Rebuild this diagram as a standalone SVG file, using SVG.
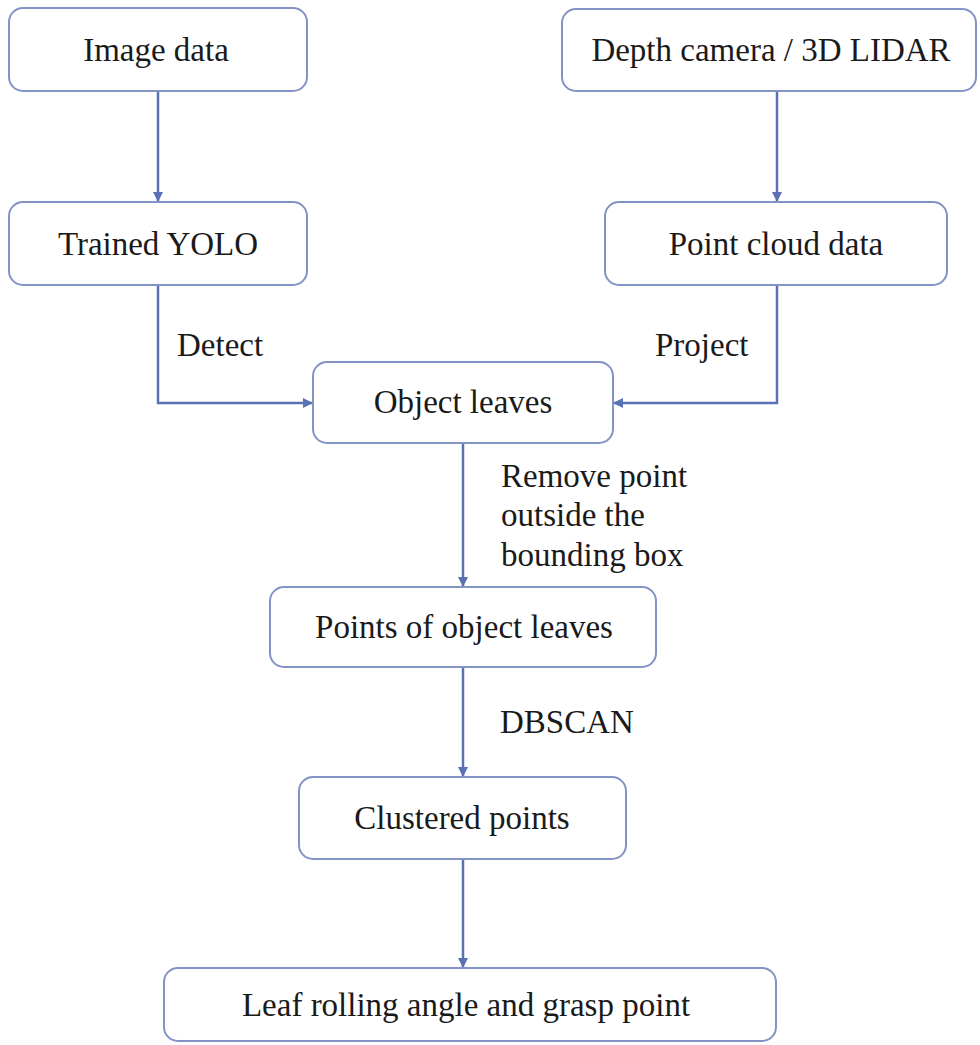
<svg xmlns="http://www.w3.org/2000/svg" width="980" height="1045" viewBox="0 0 980 1045">
<style>
.box{fill:#ffffff;stroke:#8393c6;stroke-width:2}
.t{font-family:"Times New Roman",Times,"Liberation Serif","Nimbus Roman","Nimbus Roman No9 L",Tinos,"DejaVu Serif","Noto Serif",serif;font-size:33px;fill:#1a1a1a}
.c{text-anchor:middle}
.line{fill:none;stroke:#5a72b4;stroke-width:2.5}
</style>
<defs>
<marker id="ah" markerUnits="userSpaceOnUse" markerWidth="12" markerHeight="12" refX="10" refY="5" orient="auto">
<path d="M0,0 L10,5 L0,10 Z" fill="#5a72b4"/>
</marker>
</defs>
<rect width="980" height="1045" fill="#ffffff"/>
<g id="connectors">
<path class="line" d="M158,91 V202" marker-end="url(#ah)"/>
<path class="line" d="M777,91 V202" marker-end="url(#ah)"/>
<path class="line" d="M158,285 V403 H313" marker-end="url(#ah)"/>
<path class="line" d="M777,285 V403 H613" marker-end="url(#ah)"/>
<path class="line" d="M463,443 V587" marker-end="url(#ah)"/>
<path class="line" d="M463,667 V777" marker-end="url(#ah)"/>
<path class="line" d="M463,859 V968" marker-end="url(#ah)"/>
<text class="t" x="177" y="356">Detect</text>
<text class="t" x="655" y="356">Project</text>
<text class="t" x="501" y="487">Remove point</text>
<text class="t" x="501" y="526">outside the</text>
<text class="t" x="501" y="566">bounding box</text>
<text class="t" x="500" y="733">DBSCAN</text>
</g>
<g id="image-data">
<rect class="box" x="9" y="8" width="298" height="83" rx="14"/>
<text class="t c" x="156" y="61">Image data</text>
</g>
<g id="depth-camera">
<rect class="box" x="562" y="9" width="414" height="82" rx="14"/>
<text class="t c" x="771" y="61">Depth camera / 3D LIDAR</text>
</g>
<g id="trained-yolo">
<rect class="box" x="9" y="202" width="298" height="83" rx="14"/>
<text class="t c" x="158" y="255">Trained YOLO</text>
</g>
<g id="point-cloud">
<rect class="box" x="605" y="202" width="342" height="83" rx="14"/>
<text class="t c" x="776" y="255">Point cloud data</text>
</g>
<g id="object-leaves">
<rect class="box" x="313" y="362" width="300" height="81" rx="14"/>
<text class="t c" x="463" y="413">Object leaves</text>
</g>
<g id="points-of-object-leaves">
<rect class="box" x="270" y="587" width="386" height="80" rx="14"/>
<text class="t c" x="464" y="638">Points of object leaves</text>
</g>
<g id="clustered-points">
<rect class="box" x="299" y="777" width="327" height="82" rx="14"/>
<text class="t c" x="462" y="829">Clustered points</text>
</g>
<g id="leaf-rolling">
<rect class="box" x="164" y="968" width="612" height="73" rx="14"/>
<text class="t c" x="466" y="1016">Leaf rolling angle and grasp point</text>
</g>
</svg>
